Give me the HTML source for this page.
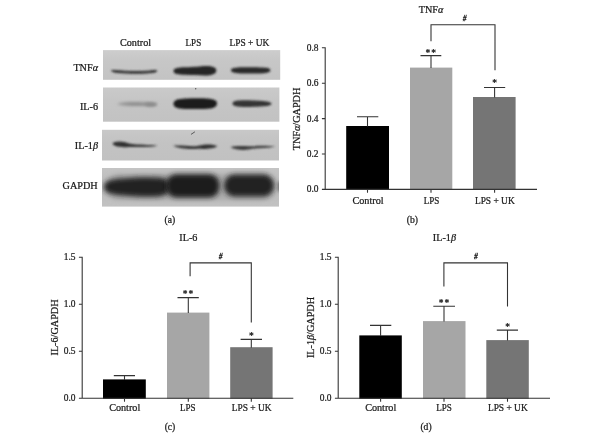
<!DOCTYPE html>
<html><head><meta charset="utf-8">
<style>
html,body{margin:0;padding:0;background:#fff;}
svg{display:block;filter:blur(0.3px);}
text{font-family:"Liberation Serif",serif;font-size:10.2px;fill:#1a1a1a;stroke:#1a1a1a;stroke-width:0.24px;}
.ax{stroke:#333;stroke-width:1.08;fill:none;}
.it{font-style:italic;}
.sb{font-size:9.6px;}
.hs{font-size:7.4px;font-style:italic;stroke-width:0.3px;}
.st{font-size:9.5px;letter-spacing:1px;stroke-width:0.25px;}
</style></head><body>
<svg width="600" height="447" viewBox="0 0 600 447">
<defs>
<filter id="b1" x="-20%" y="-100%" width="140%" height="300%"><feGaussianBlur stdDeviation="1.2"/></filter>
<filter id="b2" x="-20%" y="-100%" width="140%" height="300%"><feGaussianBlur stdDeviation="1.8"/></filter>
<filter id="b3" x="-20%" y="-100%" width="140%" height="300%"><feGaussianBlur stdDeviation="2.4"/></filter>
<linearGradient id="g1" x1="0" y1="0" x2="0" y2="1"><stop offset="0" stop-color="#cdcdcd"/><stop offset="0.35" stop-color="#c7c7c7"/><stop offset="1" stop-color="#c3c3c3"/></linearGradient>
<linearGradient id="g2" x1="0" y1="0" x2="0" y2="1"><stop offset="0" stop-color="#cacaca"/><stop offset="0.4" stop-color="#c5c5c5"/><stop offset="1" stop-color="#c2c2c2"/></linearGradient>
<linearGradient id="g3" x1="0" y1="0" x2="0" y2="1"><stop offset="0" stop-color="#c8c8c8"/><stop offset="0.4" stop-color="#c3c3c3"/><stop offset="1" stop-color="#c1c1c1"/></linearGradient>
<linearGradient id="g4" x1="0" y1="0" x2="0" y2="1"><stop offset="0" stop-color="#c4c4c4"/><stop offset="0.5" stop-color="#bcbcbc"/><stop offset="1" stop-color="#c2c2c2"/></linearGradient>
<clipPath id="c1"><rect x="103" y="50.1" width="177.2" height="29.7"/></clipPath>
<clipPath id="c2"><rect x="103" y="87.5" width="176.4" height="34.2"/></clipPath>
<clipPath id="c3"><rect x="102" y="129.8" width="177" height="30.7"/></clipPath>
<clipPath id="c4"><rect x="102" y="168" width="177" height="38.6"/></clipPath>
</defs>
<rect width="600" height="447" fill="#fff"/>

<!-- (a) western blot -->
<g id="blot">
<rect x="103" y="50.1" width="177.2" height="29.7" fill="url(#g1)"/>
<rect x="103" y="87.5" width="176.4" height="34.2" fill="url(#g2)"/>
<rect x="102" y="129.8" width="177" height="30.7" fill="url(#g3)"/>
<rect x="102" y="168" width="177" height="38.6" fill="url(#g4)"/>
<g clip-path="url(#c1)">
 <path d="M111.500,70.500 C114,70.300 120,71 127,71.300 C137,71.700 146,71.300 151,70.900 C154,70.600 156.500,70.300 157,71 C156,72.200 152,72.600 148,72.900 C138,73.400 125,73.300 119,72.600 C114,72.100 111.500,71.600 111.500,70.500Z" fill="#2c2c2c" stroke="#2c2c2c" stroke-width="1" stroke-linejoin="round" filter="url(#b1)"/>
 <path transform="translate(0,0.5)" d="M173.500,70.500 C173.500,67.700 178,67 185,66.800 C195,66.500 200,65.500 206,65.400 C213,65.400 216.300,67 216.300,70 C216.300,73.300 212,75 205,75 C198,75 192,74.400 185,74.300 C178,74.200 173.500,73.300 173.500,70.500Z" fill="#262626" filter="url(#b1)"/>
 <path transform="translate(0,0.5)" d="M231,69.800 C231,67.500 236,67 242,66.800 C252,66.600 262,66.800 266,67.200 C269,67.500 270.500,68.400 270.500,69.800 C270.500,71.400 268,72.400 264,72.700 C255,73.200 243,73.100 238,72.700 C233,72.300 231,71.400 231,69.800Z" fill="#2a2a2a" filter="url(#b1)"/>
</g>
<g clip-path="url(#c2)">
 <path d="M117,104 C124,101 150,101.5 158,104 C150,107 124,106.5 117,104Z" fill="#8e8e8e" filter="url(#b2)"/>
 <ellipse cx="151" cy="104.5" rx="6" ry="2" fill="#888" filter="url(#b2)"/>
 <path d="M173.500,103.700 C173.500,100 178,98.800 186,98.500 C196,98.200 204,98.300 209,98.700 C214,99.100 217,100.500 217,103.500 C217,106.500 214,108.300 208,108.700 C200,109.200 188,109.200 182,108.700 C176,108.200 173.500,106.800 173.500,103.700Z" fill="#1e1e1e" filter="url(#b1)"/>
 <path d="M232.500,103.500 C232.500,101 237,100.300 244,100.300 C254,100.300 262,100.800 267,101.500 C270,102 271.500,102.700 271.500,103.700 C271.500,105 269,105.800 264,106.300 C256,107 244,107.200 239,106.700 C235,106.300 232.500,105.500 232.500,103.500Z" fill="#353535" filter="url(#b1)"/>
</g>
<g clip-path="url(#c3)">
 <path transform="translate(0,0.1)" d="M112.5,143.5 C114,140.500 124,140.800 129,143.500 C138,145.200 150,144.500 157.500,145.600 C150,147.300 138,146.800 129,146.800 C122,147.500 114,147 112.500,143.500Z" fill="#333" filter="url(#b1)"/>
 <path d="M173,145.800 C180,144.800 190,146.800 197,146 C203,144 213,143.800 217.500,146 C214,149 205,149.200 198,148.800 C190,149.600 179,148.600 173,145.800Z" fill="#333" filter="url(#b1)"/>
 <path d="M230.500,147.200 C236,145.300 246,146.400 252,146.200 C260,145.900 268,145.400 275.500,146.600 C268,148.200 260,148.200 252,148.800 C246,150.600 236,150.200 230.500,147.200Z" fill="#3a3a3a" filter="url(#b1)"/>
</g>
<g clip-path="url(#c4)">
 <rect x="106" y="174" width="170" height="26" rx="13" fill="#aaaaaa" filter="url(#b3)"/>
 <path d="M103.800,187 C103.800,182 109,179.800 118,178.800 C135,177 150,176.800 160,177.800 C166,178.500 170,181 170,186.500 C170,192 166,195.500 160,196.200 C150,197.200 135,196.800 118,195 C110,194.200 103.800,192 103.800,187Z" fill="#242424" filter="url(#b3)"/>
 <rect x="166" y="174.200" width="53.500" height="23.300" rx="10.500" fill="#1c1c1c" filter="url(#b3)"/>
 <rect x="224" y="174.600" width="50" height="21.800" rx="10.500" fill="#202020" filter="url(#b3)"/>
 <rect x="278" y="181" width="6" height="11" rx="3" fill="#666" filter="url(#b2)"/>
</g>
<circle cx="195.700" cy="88.800" r="0.700" fill="#555"/>
<path d="M191.300,134.200 L194.600,132" stroke="#5a5a5a" stroke-width="1" stroke-linecap="round" fill="none"/>
<text x="135.5" y="46" text-anchor="middle">Control</text>
<text x="193.4" y="46" text-anchor="middle" textLength="15.6" lengthAdjust="spacingAndGlyphs">LPS</text>
<text x="249.4" y="46" text-anchor="middle" textLength="39.8" lengthAdjust="spacingAndGlyphs">LPS + UK</text>
<text x="98" y="70.5" text-anchor="end">TNF<tspan class="it">α</tspan></text>
<text x="98" y="109.5" text-anchor="end">IL-6</text>
<text x="98" y="149" text-anchor="end">IL-1<tspan class="it">β</tspan></text>
<text x="97.700" y="189" text-anchor="end">GAPDH</text>
<text x="169.9" y="222.8" text-anchor="middle" class="sb">(a)</text>
</g>

<!-- (b) TNFa chart -->
<g id="cb">
<rect x="346.20" y="126.00" width="42.80" height="63.90" fill="#000"/>
<rect x="410.00" y="67.60" width="42.30" height="122.30" fill="#a6a6a6"/>
<rect x="473.00" y="97.00" width="42.60" height="92.90" fill="#757575"/>
<path class="ax" d="M325.20,47.30V189.40H537.00 M321.90,189.40h3.5 M321.90,154.00h3.5 M321.90,118.60h3.5 M321.90,83.20h3.5 M321.90,47.80h3.5 M367.50,189.40v3.4 M431.00,189.40v3.4 M494.60,189.40v3.4"/>
<path class="ax" d="M367.50,126.50V116.80 M357.00,116.80H378.30 M431.00,68.10V55.60 M420.50,55.60H441.30 M494.60,97.50V87.50 M484.00,87.50H505.20"/>
<path class="ax" d="M431.00,41.20V24.70H495.00V70.20"/>
<text x="318.50" y="192.40" text-anchor="end" textLength="11.8" lengthAdjust="spacingAndGlyphs">0.0</text>
<text x="318.50" y="157.00" text-anchor="end" textLength="11.8" lengthAdjust="spacingAndGlyphs">0.2</text>
<text x="318.50" y="121.60" text-anchor="end" textLength="11.8" lengthAdjust="spacingAndGlyphs">0.4</text>
<text x="318.50" y="86.20" text-anchor="end" textLength="11.8" lengthAdjust="spacingAndGlyphs">0.6</text>
<text x="318.50" y="50.80" text-anchor="end" textLength="11.8" lengthAdjust="spacingAndGlyphs">0.8</text>
<text x="368.00" y="203.90" text-anchor="middle">Control</text>
<text x="431.50" y="203.90" text-anchor="middle" textLength="15.6" lengthAdjust="spacingAndGlyphs">LPS</text>
<text x="494.80" y="203.90" text-anchor="middle" textLength="39.8" lengthAdjust="spacingAndGlyphs">LPS + UK</text>
<text x="431.00" y="12.70" text-anchor="middle">TNF<tspan class="it">α</tspan></text>
<text x="464.50" y="20.80" text-anchor="middle" class="hs">#</text>
<text x="431.20" y="55.80" text-anchor="middle" class="st">**</text>
<text x="495.20" y="86.20" text-anchor="middle" class="st">*</text>
<text transform="translate(300.30,119.00) rotate(-90)" text-anchor="middle">TNF<tspan class="it">α</tspan>/GAPDH</text>
<text x="412.40" y="222.90" text-anchor="middle" class="sb">(b)</text>
</g>
<!-- (c) IL-6 chart -->
<g id="cc">
<rect x="103.00" y="379.40" width="42.80" height="19.40" fill="#000"/>
<rect x="167.00" y="312.60" width="42.40" height="86.20" fill="#a6a6a6"/>
<rect x="230.20" y="347.20" width="42.40" height="51.60" fill="#757575"/>
<path class="ax" d="M82.20,256.80V398.30H293.30 M78.90,398.30h3.5 M78.90,351.30h3.5 M78.90,304.30h3.5 M78.90,257.30h3.5 M124.50,398.30v3.4 M188.30,398.30v3.4 M251.30,398.30v3.4"/>
<path class="ax" d="M124.50,379.90V375.60 M113.80,375.60H135.00 M188.30,313.10V297.60 M177.50,297.60H198.80 M251.30,347.70V339.40 M240.60,339.40H262.00"/>
<path class="ax" d="M190.10,276.20V262.90H251.30V322.40"/>
<text x="75.50" y="401.30" text-anchor="end" textLength="11.8" lengthAdjust="spacingAndGlyphs">0.0</text>
<text x="75.50" y="354.30" text-anchor="end" textLength="11.8" lengthAdjust="spacingAndGlyphs">0.5</text>
<text x="75.50" y="307.30" text-anchor="end" textLength="11.8" lengthAdjust="spacingAndGlyphs">1.0</text>
<text x="75.50" y="260.30" text-anchor="end" textLength="11.8" lengthAdjust="spacingAndGlyphs">1.5</text>
<text x="124.70" y="411.20" text-anchor="middle">Control</text>
<text x="187.80" y="411.20" text-anchor="middle" textLength="15.6" lengthAdjust="spacingAndGlyphs">LPS</text>
<text x="251.70" y="411.20" text-anchor="middle" textLength="39.8" lengthAdjust="spacingAndGlyphs">LPS + UK</text>
<text x="188.40" y="240.50" text-anchor="middle">IL-6</text>
<text x="220.50" y="258.80" text-anchor="middle" class="hs">#</text>
<text x="188.60" y="296.60" text-anchor="middle" class="st">**</text>
<text x="251.90" y="338.80" text-anchor="middle" class="st">*</text>
<text transform="translate(58.20,327.50) rotate(-90)" text-anchor="middle">IL-6/GAPDH</text>
<text x="170.00" y="429.50" text-anchor="middle" class="sb">(c)</text>
</g>
<!-- (d) IL-1b chart -->
<g id="cd">
<rect x="359.30" y="335.40" width="42.50" height="63.40" fill="#000"/>
<rect x="423.00" y="321.10" width="42.50" height="77.70" fill="#a6a6a6"/>
<rect x="486.30" y="340.10" width="42.50" height="58.70" fill="#757575"/>
<path class="ax" d="M338.20,256.80V398.30H550.00 M334.90,398.30h3.5 M334.90,351.30h3.5 M334.90,304.30h3.5 M334.90,257.30h3.5 M380.60,398.30v3.4 M444.00,398.30v3.4 M507.50,398.30v3.4"/>
<path class="ax" d="M380.60,335.90V325.40 M370.00,325.40H391.30 M444.00,321.60V306.30 M433.30,306.30H455.00 M507.50,340.60V330.10 M496.80,330.10H518.00"/>
<path class="ax" d="M443.90,286.40V262.90H507.50V306.40"/>
<text x="331.50" y="401.30" text-anchor="end" textLength="11.8" lengthAdjust="spacingAndGlyphs">0.0</text>
<text x="331.50" y="354.30" text-anchor="end" textLength="11.8" lengthAdjust="spacingAndGlyphs">0.5</text>
<text x="331.50" y="307.30" text-anchor="end" textLength="11.8" lengthAdjust="spacingAndGlyphs">1.0</text>
<text x="331.50" y="260.30" text-anchor="end" textLength="11.8" lengthAdjust="spacingAndGlyphs">1.5</text>
<text x="380.70" y="411.20" text-anchor="middle">Control</text>
<text x="444.00" y="411.20" text-anchor="middle" textLength="15.6" lengthAdjust="spacingAndGlyphs">LPS</text>
<text x="507.80" y="411.20" text-anchor="middle" textLength="39.8" lengthAdjust="spacingAndGlyphs">LPS + UK</text>
<text x="444.40" y="240.50" text-anchor="middle">IL-1<tspan class="it">β</tspan></text>
<text x="475.90" y="258.80" text-anchor="middle" class="hs">#</text>
<text x="444.60" y="305.80" text-anchor="middle" class="st">**</text>
<text x="508.10" y="329.60" text-anchor="middle" class="st">*</text>
<text transform="translate(314.10,327.50) rotate(-90)" text-anchor="middle">IL-1<tspan class="it">β</tspan>/GAPDH</text>
<text x="426.00" y="429.50" text-anchor="middle" class="sb">(d)</text>
</g>
</svg>
</body></html>
